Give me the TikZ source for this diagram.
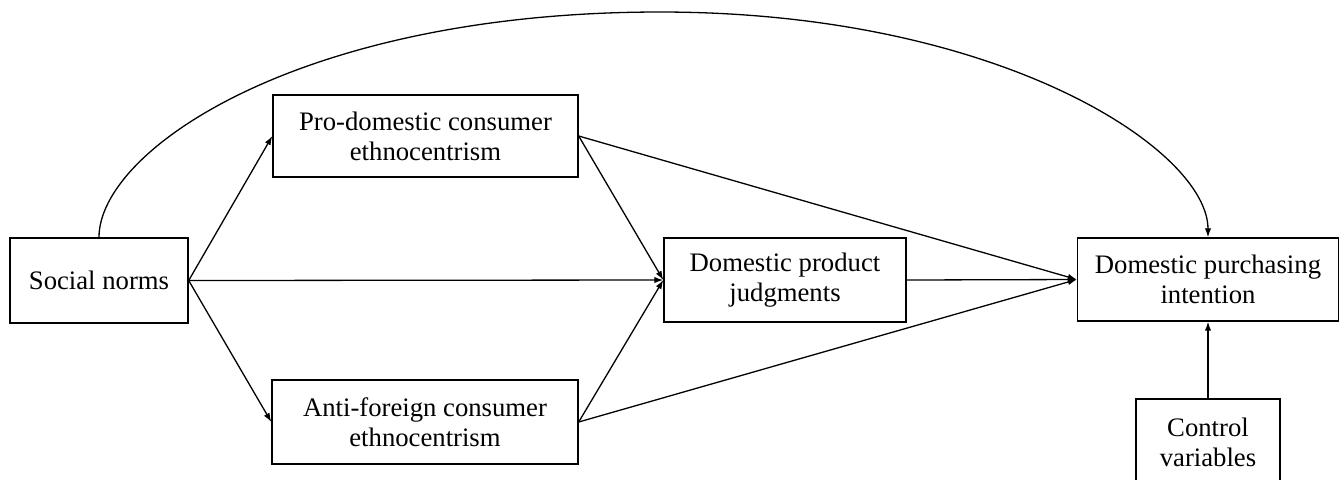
\documentclass[tikz,border=0pt]{standalone}
\usepackage{fontspec}
\setmainfont{Liberation Serif}
\usetikzlibrary{arrows.meta}
\begin{document}
\begin{tikzpicture}[x=0.5pt,y=-0.5pt,
  box/.style={draw=black, line width=0.7pt, align=center, inner sep=0pt,
    font=\fontsize{13.35}{15}\selectfont},
  link/.style={line width=0.65pt, -{Latex[length=4.5pt,width=3.2pt]}}]
\clip (0,0) rectangle (1341,479);
\node[box, minimum width=89pt, minimum height=42.5pt] (sn) at (99,280.5) {Social norms};
\node[box, minimum width=152.5pt, minimum height=41pt] (pd) at (425.5,136) {Pro-domestic consumer\\ethnocentrism};
\node[box, minimum width=153pt, minimum height=42pt] (af) at (425,422) {Anti-foreign consumer\\ethnocentrism};
\node[box, minimum width=121pt, minimum height=42pt] (dpj) at (785,280) {Domestic product\\judgments};
\node[box, minimum width=130.5pt, minimum height=41.5pt] (dpi) at (1208,279.5) {Domestic purchasing\\intention};
\node[box, minimum width=72pt, minimum height=43pt] (cv) at (1208,442) {Control\\variables};
\draw[link] (sn.east) -- (pd.west);
\draw[link] (sn.east) -- (af.west);
\draw[link] (sn.east) -- (dpj.west);
\draw[link] (pd.east) -- (dpj.west);
\draw[link] (af.east) -- (dpj.west);
\draw[link] (pd.east) -- (dpi.west);
\draw[link] (af.east) -- (dpi.west);
\draw[link] (dpj.east) -- (dpi.west);
\draw[link] (cv.north) -- (dpi.south);
\coordinate (top) at (660,12);
\draw[link] (sn.north) .. controls (99,150) and (300,12) .. (top)
  .. controls (1000,12) and (1208,150) .. (dpi.north);
\end{tikzpicture}
\end{document}
